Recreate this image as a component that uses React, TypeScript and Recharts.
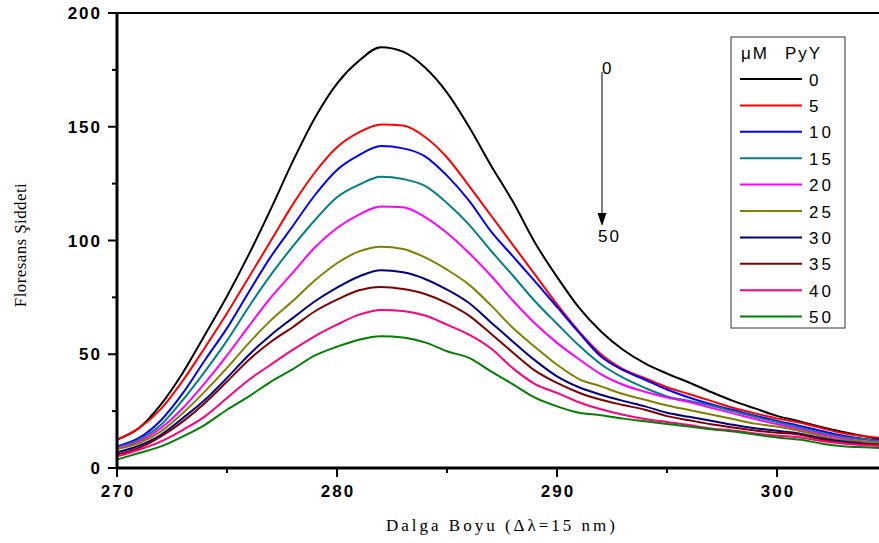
import { LineChart, Line, XAxis, YAxis, ReferenceLine } from 'recharts';

// Dalga boyu (nm)
const wavelengths = [
  270, 271, 272, 273, 274, 275, 276, 277, 278, 279, 280, 281,
  282, 283, 284, 285, 286, 287, 288, 289, 290, 291, 292, 293,
  294, 295, 296, 297, 298, 299, 300, 301, 302, 303, 304, 305,
];

// Floresans siddeti, one list per PyY concentration (uM)
const pyy0 = [12.5, 17.6, 28, 42, 58.6, 75.5, 94, 114, 135, 154, 169, 179, 185, 183, 176, 165, 150, 133, 117, 99, 84, 70.5, 60, 52, 46, 41.5, 37.6, 33.4, 29.5, 26.2, 22.9, 20.6, 18, 15.8, 13.9, 12];
const pyy5 = [12.5, 17.5, 26, 38.5, 53, 68, 84, 100, 116, 130, 141, 147.5, 151, 150.5, 145.5, 136.5, 124, 111, 98, 85, 72, 60, 50, 43.5, 39.5, 35.5, 32.5, 29.5, 26.5, 24, 21.8, 20, 17.6, 15.3, 14, 13];
const pyy10 = [9.5, 13.2, 21, 33, 47.5, 61.5, 77.5, 93, 106.5, 120, 131, 137.5, 141.5, 140.5, 137, 128.5, 117.5, 104, 93, 82, 70.8, 59.5, 49, 43, 38.8, 34.5, 31, 28, 25.5, 23, 20.7, 18.6, 16.3, 14.2, 12.7, 11.8];
const pyy15 = [9, 12.5, 19, 30, 42.5, 56, 71, 85, 97.5, 109, 119, 124.5, 128, 127, 124, 116.5, 107, 95.5, 84.5, 73.3, 63.4, 53.8, 45.6, 39.7, 35.2, 31.5, 29.5, 27.5, 25, 22.5, 20.2, 17.9, 15.5, 13.6, 12.5, 11.5];
const pyy20 = [8.8, 11.7, 17.6, 26.4, 37.4, 49.5, 62.5, 75, 86, 97, 105.5, 111.4, 115, 114.6, 110.3, 103.3, 94.5, 84.5, 73.5, 63.5, 55, 47.8, 41.2, 36.6, 33.5, 31, 29, 26.5, 24, 21.5, 19.3, 17.1, 14.8, 13, 11.7, 11];
const pyy25 = [8.3, 11, 16.1, 24.2, 33.7, 44, 55, 65, 73.5, 82.5, 90, 95.2, 97.3, 96.3, 92.6, 87.2, 80.6, 71.5, 61.5, 53.2, 45.4, 39.1, 35.9, 32.5, 30, 27.5, 25.5, 23.5, 21.5, 19.5, 18.2, 16.4, 14.1, 12.3, 11.4, 10.8];
const pyy30 = [6.9, 9.8, 14.6, 22, 30, 39.6, 49.8, 58.5, 66, 73.3, 79.3, 84.2, 86.9, 86, 83.1, 78.4, 72.5, 64, 55.5, 47.3, 40.3, 35.5, 32.2, 29.5, 27.1, 24.3, 22.5, 20.8, 19, 17.5, 16.4, 15.2, 13.2, 11.6, 10.7, 10.2];
const pyy35 = [5.9, 8.8, 13.9, 20.5, 28.6, 38, 47.6, 55.5, 62, 68.9, 74, 78.1, 79.6, 78.7, 76.5, 72.5, 67, 59, 50.7, 42.8, 37.4, 33.1, 30, 27.7, 25.6, 22.8, 21, 19.2, 17.8, 16.5, 15.5, 14.7, 12.6, 11, 10.5, 10];
const pyy40 = [5.1, 8, 11.7, 16.8, 22.7, 30.8, 38.8, 45.5, 52, 58, 63, 67.4, 69.5, 69, 67, 63, 58.6, 52.5, 43.8, 36.9, 33, 28.9, 25.8, 23.4, 21.5, 20.2, 18.9, 17.4, 16.5, 15.2, 14.2, 13.5, 11.9, 10.8, 10, 9.5];
const pyy50 = [3.7, 6.6, 9.5, 13.9, 19, 25.6, 31.5, 38, 43.5, 49.5, 53.3, 56.4, 57.9, 57.4, 55.2, 51.3, 48.4, 42.5, 36.8, 30.9, 27.1, 24.3, 23.2, 21.7, 20.5, 19.3, 18.2, 17, 16, 14.7, 13.4, 12.5, 10.8, 9.6, 9.1, 8.7];

const concentrations = ['0', '5', '10', '15', '20', '25', '30', '35', '40', '50'];
const seriesValues = [pyy0, pyy5, pyy10, pyy15, pyy20, pyy25, pyy30, pyy35, pyy40, pyy50];
const colors = ['#000000', '#FF0000', '#0000FF', '#008080', '#FF00FF', '#808000', '#000080', '#800000', '#FF0080', '#008000'];

const yTicks = [0, 25, 50, 75, 100, 125, 150, 175, 200];
const xTicks = [270, 275, 280, 285, 290, 295, 300, 305];

const data = wavelengths.map((w, i) => {
  const row: Record<string, number> = { w };
  seriesValues.forEach((s, k) => {
    row['c' + concentrations[k]] = s[i];
  });
  return row;
});

const tickFont = {
  fontFamily: '"Liberation Sans", Arial, sans-serif',
  fontWeight: 'bold' as const,
  fontSize: 17,
  letterSpacing: 2,
  fill: '#000',
};

const YTick = (props: any) => {
  const { x, y, payload } = props;
  const major = payload.value % 50 === 0;
  return (
    <g>
      <line x1={x - (major ? 9 : 5)} x2={x} y1={y} y2={y} stroke="#000" strokeWidth={2} />
      {major && (
        <text x={x - 15} y={y + 6} textAnchor="end" style={tickFont}>
          {payload.value}
        </text>
      )}
    </g>
  );
};

const XTick = (props: any) => {
  const { x, y, payload } = props;
  const major = payload.value % 10 === 0;
  return (
    <g>
      <line x1={x} x2={x} y1={y} y2={y + (major ? 9 : 5)} stroke="#000" strokeWidth={2} />
      {major && (
        <text x={x + 1} y={y + 29} textAnchor="middle" style={tickFont}>
          {payload.value}
        </text>
      )}
    </g>
  );
};

const labelFont = '"Liberation Sans", Arial, sans-serif';
const serifFont = '"Liberation Serif", "Times New Roman", serif';

export default function App() {
  return (
    <div style={{ position: 'fixed', left: 0, top: 0, width: 879, height: 543, overflow: 'hidden', background: '#fff' }}>
      <LineChart width={890} height={543} data={data} margin={{ top: 13, right: 3, left: 0, bottom: 0 }}>
        <XAxis
          dataKey="w"
          type="number"
          domain={[270, 305]}
          ticks={xTicks}
          interval={0}
          height={75}
          tickSize={0}
          tickMargin={0}
          tick={<XTick />}
          axisLine={{ stroke: '#000', strokeWidth: 3 }}
        />
        <YAxis
          type="number"
          domain={[0, 200]}
          ticks={yTicks}
          interval={0}
          width={117}
          tickSize={0}
          tickMargin={0}
          tick={<YTick />}
          axisLine={{ stroke: '#000', strokeWidth: 3 }}
        />
        <ReferenceLine y={200} stroke="#000" strokeWidth={2} />
        {concentrations.map((c, k) => (
          <Line
            key={c}
            dataKey={'c' + c}
            type="monotone"
            stroke={colors[k]}
            strokeWidth={2}
            dot={false}
            isAnimationActive={false}
          />
        ))}
      </LineChart>

      <svg width={879} height={543} style={{ position: 'absolute', left: 0, top: 0, pointerEvents: 'none' }}>
        {/* axis titles */}
        <text
          x={20}
          y={245}
          transform="rotate(-90 20 245)"
          textAnchor="middle"
          dominantBaseline="central"
          style={{ fontFamily: serifFont, fontSize: 17, letterSpacing: 0.4, fill: '#000' }}
        >
          Floresans Şiddeti
        </text>
        <text
          x={502}
          y={531}
          textAnchor="middle"
          style={{ fontFamily: serifFont, fontSize: 17, letterSpacing: 3, fill: '#000' }}
        >
          Dalga Boyu (Δλ=15 nm)
        </text>

        {/* arrow 0 -> 50 */}
        <line x1={602} y1={72} x2={602} y2={216} stroke="#555" strokeWidth={1.5} />
        <polygon points="597.5,213 606.5,213 602,226" fill="#000" />
        <text x={602} y={74} style={{ fontFamily: labelFont, fontSize: 17, fill: '#000' }}>0</text>
        <text x={598} y={242} style={{ fontFamily: labelFont, fontSize: 17, letterSpacing: 2, fill: '#000' }}>50</text>

        {/* legend */}
        <rect x={731} y={37} width={114} height={291} fill="#fff" stroke="#333" strokeWidth={1} />
        <text y={59} style={{ fontFamily: labelFont, fontSize: 17, letterSpacing: 2, fill: '#000' }}>
          <tspan x={741}>μM</tspan>
          <tspan x={785}>PyY</tspan>
        </text>
        {concentrations.map((c, k) => {
          const ly = 79 + k * 26.4;
          return (
            <g key={c}>
              <line x1={740} x2={802} y1={ly} y2={ly} stroke={colors[k]} strokeWidth={2} />
              <text x={809} y={ly + 6.5} style={{ fontFamily: labelFont, fontSize: 17, letterSpacing: 3, fill: '#000' }}>
                {c}
              </text>
            </g>
          );
        })}
      </svg>
    </div>
  );
}
